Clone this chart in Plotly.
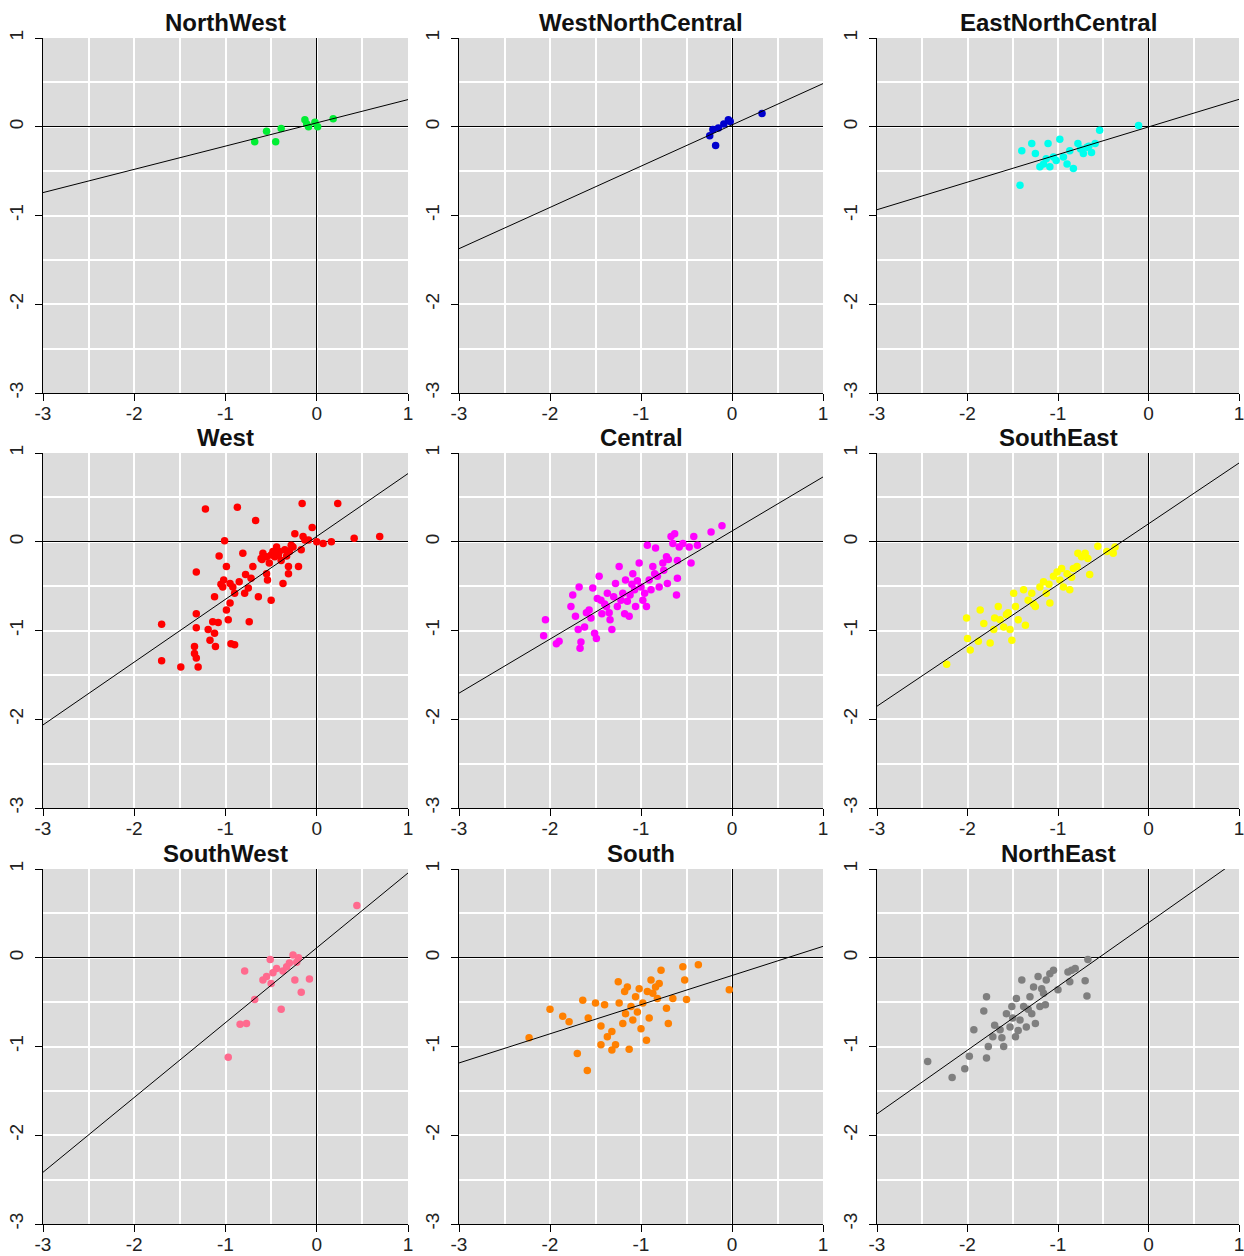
import plotly.graph_objects as go

W, H = 1244, 1256

regions = ["NorthWest", "WestNorthCentral", "EastNorthCentral",
           "West", "Central", "SouthEast",
           "SouthWest", "South", "NorthEast"]
colors = ["#00EE33", "#0000CD", "#00FFEE",
          "#FF0000", "#FF00FF", "#FFFF00",
          "#FF6A8E", "#FF8000", "#7F7F7F"]

tick_vals = [-3, -2, -1, 0, 1]
tick_text = ["-3", "-2", "-1", "0", "1"]

# regression line parameters
intercepts = [0.044, 0.021, -0.002, 0.06, 0.121, 0.202, 0.112, -0.20, 0.395]
slopes = [0.262, 0.465, 0.311, 0.708, 0.609, 0.685, 0.843, 0.3285, 0.718]

nw_x = [-0.68, -0.55, -0.45, -0.39, -0.13, -0.09, -0.02, 0.01, 0.18, -0.11]
nw_y = [-0.17, -0.05, -0.17, -0.02, 0.08, 0.00, 0.05, 0.00, 0.09, 0.03]

wnc_x = [-0.245, -0.21, -0.18, -0.09, -0.04, -0.02, 0.33, -0.15]
wnc_y = [-0.10, -0.03, -0.21, 0.03, 0.08, 0.06, 0.15, -0.015]

enc_x = [-1.42, -1.40, -1.29, -1.16, -1.20, -1.11, -1.09, -1.05, -0.98, -0.94,
         -0.90, -0.87, -0.83, -0.78, -0.72, -0.68, -0.63, -0.59, -0.54, -0.11,
         -1.25, -1.02, -0.75, -0.66, -1.13]
enc_y = [-0.66, -0.27, -0.19, -0.42, -0.45, -0.19, -0.45, -0.34, -0.14, -0.34,
         -0.42, -0.27, -0.47, -0.19, -0.30, -0.23, -0.29, -0.19, -0.04, 0.015,
         -0.30, -0.38, -0.25, -0.22, -0.36]

w_x = [-1.70, -1.70, -1.49, -1.32, -1.22, -1.32, -1.32, -1.34, -1.34, -1.32,
       -1.30, -1.19, -1.17, -1.12, -1.11, -1.14, -1.08, -1.12, -1.07, -1.01,
       -0.99, -1.02, -1.03, -0.95, -0.92, -0.90, -0.95, -0.99, -0.97, -0.94,
       -0.90, -0.87, -0.81, -0.78, -0.75, -0.74, -0.79, -0.70, -0.67, -0.64,
       -0.61, -0.59, -0.55, -0.54, -0.50, -0.48, -0.44, -0.42, -0.39, -0.37,
       -0.31, -0.31, -0.30, -0.28, -0.24, -0.20, -0.17, -0.16, -0.15, -0.13,
       -0.09, -0.05, 0.00, 0.07, 0.16, 0.23, 0.41, 0.69, -0.55, -0.50,
       -0.46, -0.41, -0.35, -0.26, -0.85, -0.60, -0.33, -1.05, -0.72, -0.52]
w_y = [-0.93, -1.34, -1.41, -0.34, 0.37, -0.81, -0.97, -1.18, -1.26, -1.31,
       -1.41, -0.99, -1.11, -1.03, -1.18, -0.90, -0.91, -0.62, -0.16, 0.01,
       -0.28, -0.43, -0.51, -0.47, -0.51, -0.58, -0.69, -0.77, -0.88, -1.15,
       -1.16, 0.39, -0.13, -0.37, -0.52, -0.90, -0.58, -0.28, 0.24, -0.62,
       -0.19, -0.13, -0.36, -0.43, -0.66, -0.11, -0.06, -0.15, -0.21, -0.47,
       -0.36, -0.28, -0.11, -0.04, 0.09, -0.28, -0.09, 0.43, 0.06, 0.02,
       0.02, 0.16, 0.00, -0.02, 0.00, 0.43, 0.04, 0.06, -0.17, -0.15,
       -0.17, -0.11, -0.09, -0.06, -0.45, -0.20, -0.16, -0.48, -0.41, -0.24]

c_x = [-2.05, -2.07, -1.93, -1.90, -1.75, -1.68, -1.77, -1.72, -1.69, -1.66,
       -1.67, -1.62, -1.57, -1.53, -1.51, -1.49, -1.46, -1.44, -1.43, -1.38,
       -1.37, -1.34, -1.32, -1.28, -1.26, -1.24, -1.20, -1.18, -1.17, -1.15,
       -1.13, -1.09, -1.07, -1.06, -1.02, -1.00, -0.98, -0.94, -0.93, -0.91,
       -0.89, -0.87, -0.84, -0.82, -0.80, -0.76, -0.72, -0.71, -0.67, -0.63,
       -0.61, -0.60, -0.60, -0.58, -0.54, -0.47, -0.45, -0.42, -0.38, -0.23,
       -0.11, -1.55, -1.40, -1.30, -1.22, -1.12, -1.04, -0.96, -0.85, -0.75,
       -1.60, -1.48, -1.35, -1.10, -0.70, -0.65]
c_y = [-0.88, -1.06, -1.15, -1.12, -0.60, -0.51, -0.73, -0.84, -0.99, -1.13,
       -1.20, -0.96, -0.77, -0.52, -1.03, -1.09, -0.39, -0.66, -0.81, -0.73,
       -0.58, -0.88, -0.99, -0.47, -0.73, -0.28, -0.58, -0.81, -0.43, -0.67,
       -0.84, -0.36, -0.54, -0.73, -0.24, -0.51, -0.66, -0.73, -0.04, -0.43,
       -0.54, -0.28, -0.07, -0.39, -0.51, -0.24, -0.17, -0.47, 0.06, 0.09,
       -0.60, -0.41, -0.21, -0.06, -0.02, -0.06, -0.24, 0.06, -0.04, 0.11,
       0.18, -0.86, -0.70, -0.62, -0.66, -0.60, -0.44, -0.58, -0.36, -0.32,
       -0.80, -0.64, -0.80, -0.48, -0.20, -0.02]

se_x = [-2.23, -2.01, -2.00, -1.97, -1.88, -1.86, -1.82, -1.75, -1.71, -1.66,
        -1.64, -1.60, -1.57, -1.53, -1.51, -1.49, -1.47, -1.44, -1.38, -1.36,
        -1.33, -1.29, -1.25, -1.20, -1.16, -1.13, -1.09, -1.05, -1.01, -0.98,
        -0.94, -0.90, -0.87, -0.83, -0.79, -0.78, -0.74, -0.70, -0.67, -0.65,
        -0.56, -0.46, -0.39, -0.37, -1.27, -0.96, -1.70, -1.55, -1.10, -0.85]
se_y = [-1.38, -0.86, -1.09, -1.22, -1.12, -0.77, -0.92, -1.14, -0.99, -0.73,
        -0.88, -0.96, -0.82, -0.99, -1.11, -0.58, -0.73, -0.88, -0.54, -0.94,
        -0.66, -0.58, -0.73, -0.51, -0.45, -0.58, -0.69, -0.39, -0.34, -0.43,
        -0.51, -0.36, -0.54, -0.30, -0.28, -0.13, -0.17, -0.13, -0.19, -0.37,
        -0.05, -0.11, -0.13, -0.06, -0.70, -0.30, -0.86, -0.80, -0.48, -0.40]

sw_x = [-0.97, -0.84, -0.77, -0.79, -0.68, -0.59, -0.55, -0.51, -0.48, -0.44,
        -0.39, -0.37, -0.33, -0.30, -0.26, -0.24, -0.20, -0.17, -0.08, 0.44,
        -0.50, -0.22]
sw_y = [-1.12, -0.75, -0.74, -0.15, -0.47, -0.25, -0.21, -0.02, -0.17, -0.12,
        -0.58, -0.15, -0.10, -0.06, 0.03, -0.25, 0.00, -0.39, -0.24, 0.59,
        -0.29, -0.05]

s_x = [-2.23, -2.00, -1.86, -1.79, -1.70, -1.64, -1.59, -1.58, -1.50, -1.44,
       -1.44, -1.40, -1.37, -1.32, -1.32, -1.28, -1.25, -1.24, -1.20, -1.18,
       -1.17, -1.15, -1.13, -1.11, -1.09, -1.06, -1.04, -1.02, -1.00, -0.98,
       -0.94, -0.93, -0.91, -0.89, -0.87, -0.84, -0.82, -0.80, -0.78, -0.72,
       -0.70, -0.65, -0.54, -0.52, -0.50, -0.37, -0.03]
s_y = [-0.90, -0.58, -0.66, -0.72, -1.08, -0.48, -1.27, -0.68, -0.51, -0.77,
       -0.98, -0.53, -0.89, -0.83, -1.04, -0.98, -0.27, -0.51, -0.74, -0.38,
       -0.63, -0.33, -1.03, -0.55, -0.70, -0.44, -0.61, -0.35, -0.80, -0.51,
       -0.93, -0.38, -0.68, -0.25, -0.40, -0.33, -0.46, -0.29, -0.14, -0.57,
       -0.74, -0.46, -0.10, -0.25, -0.47, -0.08, -0.36]

ne_x = [-2.44, -2.17, -2.03, -1.98, -1.93, -1.82, -1.79, -1.79, -1.77, -1.72,
        -1.70, -1.64, -1.60, -1.57, -1.53, -1.51, -1.47, -1.46, -1.42, -1.40,
        -1.38, -1.35, -1.31, -1.29, -1.27, -1.25, -1.22, -1.20, -1.16, -1.14,
        -1.13, -1.09, -1.05, -1.00, -0.89, -0.85, -0.81, -0.70, -0.68, -0.67,
        -0.87, -1.50, -1.33, -1.18, -1.62, -1.44]
ne_y = [-1.17, -1.35, -1.25, -1.11, -0.81, -0.60, -0.44, -1.13, -1.00, -0.89,
        -0.76, -0.81, -1.00, -0.63, -0.78, -0.55, -0.89, -0.46, -0.70, -0.25,
        -0.55, -0.78, -0.44, -0.63, -0.33, -0.74, -0.21, -0.55, -0.40, -0.53,
        -0.25, -0.18, -0.14, -0.36, -0.16, -0.14, -0.12, -0.26, -0.43, -0.02,
        -0.27, -0.68, -0.58, -0.35, -0.90, -0.82]

xs = [nw_x, wnc_x, enc_x, w_x, c_x, se_x, sw_x, s_x, ne_x]
ys = [nw_y, wnc_y, enc_y, w_y, c_y, se_y, sw_y, s_y, ne_y]

axis_min, axis_max = -3, 1

# panel pixel boxes
col_px = [(43, 408), (459, 823), (877, 1239)]
row_px = [(38, 393), (453, 808), (869, 1224)]

fig = go.Figure()
font_family = "Liberation Sans, Arial, sans-serif"

for i, name in enumerate(regions):
    r, c = divmod(i, 3)
    k = "" if i == 0 else str(i + 1)
    xd = [col_px[c][0] / W, col_px[c][1] / W]
    yd = [1 - row_px[r][1] / H, 1 - row_px[r][0] / H]
    ax_common = dict(
        range=[axis_min, axis_max], tickmode="array",
        tickvals=tick_vals, ticktext=tick_text,
        showgrid=True, gridcolor="white", gridwidth=1.5,
        minor=dict(dtick=0.5, tick0=-3, showgrid=True, gridcolor="white",
                   gridwidth=1.5, ticks=""),
        zeroline=True, zerolinecolor="black", zerolinewidth=1.2,
        showline=True, linecolor="black", linewidth=1.2, mirror=False,
        ticks="outside", ticklen=7, tickwidth=1.2, tickcolor="black",
        tickfont=dict(family=font_family, size=19, color="#222222"),
        fixedrange=True, automargin=False, ticklabeloverflow="allow",
    )
    fig.layout["xaxis" + k] = dict(domain=xd, anchor="y" + k,
                                   ticklabelstandoff=-4, **ax_common)
    fig.layout["yaxis" + k] = dict(domain=yd, anchor="x" + k, tickangle=-90,
                                   ticklabelstandoff=4, **ax_common)

    fig.add_trace(go.Scatter(
        x=xs[i], y=ys[i], mode="markers", xaxis="x" + k, yaxis="y" + k,
        marker=dict(color=colors[i], size=7.5, line=dict(width=0)),
        showlegend=False, cliponaxis=True))
    lx = [axis_min, axis_max]
    ly = [intercepts[i] + slopes[i] * v for v in lx]
    fig.add_trace(go.Scatter(
        x=lx, y=ly, mode="lines", xaxis="x" + k, yaxis="y" + k,
        line=dict(color="black", width=1), showlegend=False))

    fig.add_annotation(
        text="<b>" + name + "</b>", xref="paper", yref="paper",
        x=(xd[0] + xd[1]) / 2, y=yd[1], xanchor="center", yanchor="bottom",
        showarrow=False, font=dict(family=font_family, size=24, color="#111111"))

fig.update_layout(
    width=W, height=H, margin=dict(l=0, r=0, t=0, b=0, autoexpand=False),
    paper_bgcolor="white", plot_bgcolor="#DCDCDC",
    font=dict(family=font_family),
)

fig.write_html("out.html", config={"displayModeBar": False},
               post_script="document.body.style.margin='0';document.body.style.overflow='hidden';")
